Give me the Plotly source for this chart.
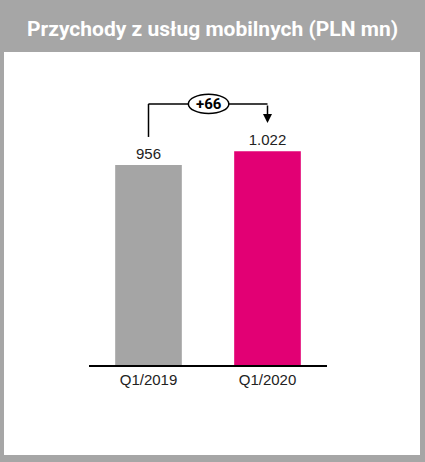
import plotly.graph_objects as go

# data
categories = ['Q1/2019', 'Q1/2020']
revenue = [956, 1022]
bar_colors = ['#a5a5a5', '#e20074']
title_text = 'Przychody z usług mobilnych (PLN mn)'

W, H = 425, 462


def fmt(v):
    return '{:,}'.format(v).replace(',', '.')


delta = revenue[1] - revenue[0]

fig = go.Figure()
fig.add_trace(go.Bar(
    x=categories, y=revenue,
    marker=dict(color=bar_colors, line_width=0),
    width=0.56,
    text=[fmt(v) for v in revenue],
    textposition='outside',
    textfont=dict(size=15, color='#222222', family='Liberation Sans'),
    cliponaxis=False,
    hoverinfo='skip',
))

# connector: scale is roughly 4.78 units per px
top_line = 1248
fig.add_shape(type='line', xref='x', yref='y', x0=0, x1=0,
              y0=revenue[0] + 134, y1=top_line,
              line=dict(color='black', width=1.5))
fig.add_shape(type='line', xref='x', yref='y', x0=0, x1=1,
              y0=top_line, y1=top_line,
              line=dict(color='black', width=1.5))
fig.add_annotation(x=1, y=revenue[1] + 135, ax=1, ay=top_line,
                   xref='x', yref='y', axref='x', ayref='y',
                   showarrow=True, arrowhead=2, arrowsize=1.2,
                   arrowwidth=1.5, arrowcolor='black', text='')
fig.add_shape(type='circle', xref='x', yref='y',
              x0=0.335, x1=0.675, y0=top_line - 46, y1=top_line + 46,
              fillcolor='white', line=dict(color='black', width=1.5))
fig.add_annotation(x=0.505, y=top_line, xref='x', yref='y',
                   text='<b>+%d</b>' % delta, showarrow=False,
                   font=dict(size=15, color='black', family='Roboto'))

# white panel and title
fig.add_shape(type='rect', xref='paper', yref='paper', layer='below',
              x0=4 / W, x1=420 / W, y0=1 - 455 / H, y1=1 - 52 / H,
              fillcolor='white', line_width=0)
fig.add_annotation(x=0.5, y=1 - 29 / H, xref='paper', yref='paper',
                   text='<b>' + title_text + '</b>', showarrow=False,
                   font=dict(size=21, color='white', family='Roboto'),
                   yanchor='middle')

fig.update_layout(
    width=W, height=H,
    margin=dict(l=0, r=0, t=0, b=0),
    paper_bgcolor='#a6a6a6',
    plot_bgcolor='rgba(0,0,0,0)',
    showlegend=False,
    xaxis=dict(domain=[89 / W, 327 / W], range=[-0.5, 1.5],
               showline=True, linecolor='black', linewidth=2,
               showgrid=False, zeroline=False, ticks='',
               tickfont=dict(size=15, color='#222222', family='Liberation Sans')),
    yaxis=dict(domain=[97 / H, 1 - 52 / H], range=[0, 1496],
               visible=False, showgrid=False, zeroline=False),
)

fig.write_html('out.html', config={'displayModeBar': False},
               post_script="document.body.style.margin='0';")
